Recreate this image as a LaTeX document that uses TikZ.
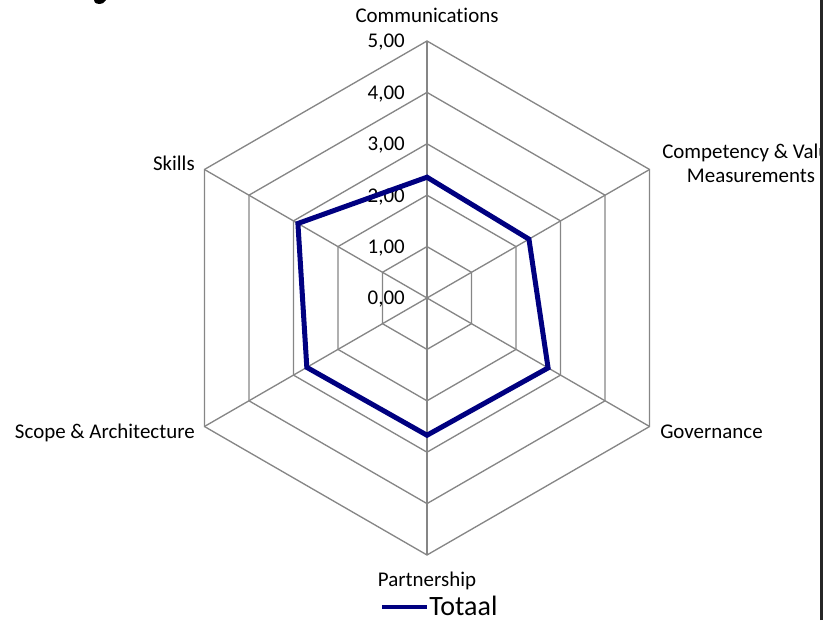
\documentclass[tikz,border=0pt]{standalone}
\usepackage{fontspec}
\setmainfont{Carlito}[Ligatures=NoCommon]
\definecolor{gridgray}{RGB}{134,134,134}
\definecolor{totaalblue}{RGB}{0,0,128}
\def\runit{51.4}

\begin{document}
\begin{tikzpicture}[x=0.75pt,y=0.75pt,
  gridline/.style={gridgray,line width=1pt},
  axislabel/.style={inner sep=0pt,font=\fontsize{15.7}{18}\selectfont},
  ticklabel/.style={inner sep=0pt,anchor=base east,font=\fontsize{15.7}{18}\selectfont},
  serie/.style={totaalblue,line width=3.75pt,line join=miter}]
\useasboundingbox (0,0) rectangle (823,620);
\begin{scope}
\clip (0,0) rectangle (820,620);
% remains of the title
\fill (94,620) .. controls (94,616) and (99,615.3) .. (103,616.8) -- (106,620) -- cycle;
\begin{scope}[shift={(427,322)}]
\coordinate (o) at (0,0);
% rings
\foreach \k in {1,...,5}
  \draw[gridline] (90:{\k*\runit}) -- (30:{\k*\runit}) -- (-30:{\k*\runit})
    -- (-90:{\k*\runit}) -- (-150:{\k*\runit}) -- (150:{\k*\runit}) -- cycle;
% spokes
\foreach \a in {90,30,-30,-90,-150,150}
  \draw[gridline] (o) -- (\a:{5*\runit});
% scale
\foreach \k in {0,...,5}
  \node[ticklabel] (tick\k) at (-22,{\k*\runit-7}) {\k,00};
% Totaal
\coordinate (comm) at (90:{2.35*\runit});
\coordinate (comp) at (30:{2.29*\runit});
\coordinate (gov) at (-30:{2.72*\runit});
\coordinate (part) at (-90:{2.67*\runit});
\coordinate (scop) at (-150:{2.70*\runit});
\coordinate (skil) at (150:{2.90*\runit});
\draw[serie] (comm) -- (comp) -- (gov) -- (part) -- (scop) -- (skil) -- cycle;
\end{scope}
% axis names
\node[axislabel,anchor=base] (commlabel) at (427,597) {Communications};
\node[axislabel,anchor=base,align=center] (complabel) at (751,437) {Competency \& Value\\Measurements};
\node[axislabel,anchor=base west] (govlabel) at (660,181) {Governance};
\node[axislabel,anchor=base] (partlabel) at (427,33) {Partnership};
\node[axislabel,anchor=base east] (scoplabel) at (195,181) {Scope \& Architecture};
\node[axislabel,anchor=base east] (skillabel) at (195,449) {Skills};
% legend
\coordinate (legA) at (382,13);
\coordinate (legB) at (427,13);
\draw[serie,line width=3pt] (legA) -- (legB);
\node[inner sep=0pt,anchor=base west,font=\fontsize{21}{25}\selectfont] (totaal) at (429,5) {Totaal};
\end{scope}
\draw[black!85,line width=2.25pt] (821.5,0) -- (821.5,620);
\end{tikzpicture}
\end{document}
